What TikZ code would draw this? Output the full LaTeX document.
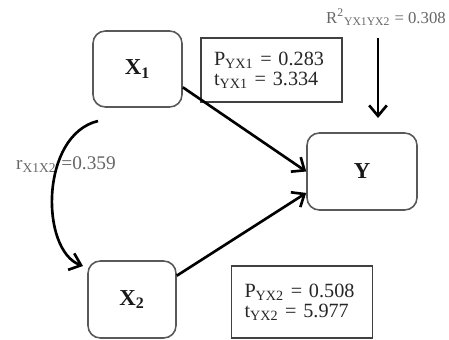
\documentclass[tikz,border=0pt]{standalone}
\usepackage{fontspec}
\setmainfont{Liberation Serif}
\usepackage{tikz}
\usetikzlibrary{arrows.meta}

\begin{document}
\begin{tikzpicture}[
  >={Straight Barb[length=6pt,width=10pt]},
  varbox/.style={draw=black!65, line width=0.9pt, rounded corners=7pt,
    minimum width=1.78cm, minimum height=1.52cm, text=black!90,
    font=\fontsize{13}{15}\selectfont\bfseries},
  coefbox/.style={draw=black!75, line width=0.8pt, align=left,
    text width=2.3cm, inner xsep=0.26cm, minimum height=1.28cm, text=black!85,
    font=\fontsize{11.5}{11.5}\selectfont},
  flow/.style={->, line width=1.5pt},
  note/.style={text=black!60}
]
\useasboundingbox (0,0) rectangle (8.98,6.78);

% Variables
\node[varbox] (x1) at (2.75, 5.40) {X\textsubscript{1}};
\node[varbox, minimum width=1.76cm, minimum height=1.54cm] (x2) at (2.64, 0.79) {X\textsubscript{2}};
\node[varbox, minimum width=2.2cm, minimum height=1.54cm] (y) at (7.24, 3.35) {Y};

% Path coefficients
\node[coefbox] (p1) at (5.43, 5.38) {P\textsubscript{YX1} = 0.283\\t\textsubscript{YX1} = 3.334};
\node[coefbox, minimum height=1.44cm] (p2) at (6.04, 0.74) {P\textsubscript{YX2} = 0.508\\t\textsubscript{YX2} = 5.977};

% Labels
\node[note, anchor=west, font=\fontsize{9.5}{11}\selectfont] (rsq) at (6.40, 6.44) {R\textsuperscript{2}\textsubscript{YX1YX2} = 0.308};
\node[note, font=\fontsize{11}{13}\selectfont] (rcor) at (1.32, 3.48) {r\textsubscript{X1X2} =0.359};

% Arrows
\coordinate (rtop) at (7.56, 6.02);
\coordinate (rtip) at (7.56, 4.42);
\coordinate (cstart) at (1.96, 4.36);
\coordinate (cend) at (1.66, 1.46);
\draw[flow] (x1.338) -- (y.west);
\draw[flow] (x2.28) -- (y.201);
\draw[flow] (rtop) -- (rtip);
\draw[flow] (cstart) .. controls (0.8, 4.08) and (0.8, 1.78) .. (cend);

\end{tikzpicture}
\end{document}
